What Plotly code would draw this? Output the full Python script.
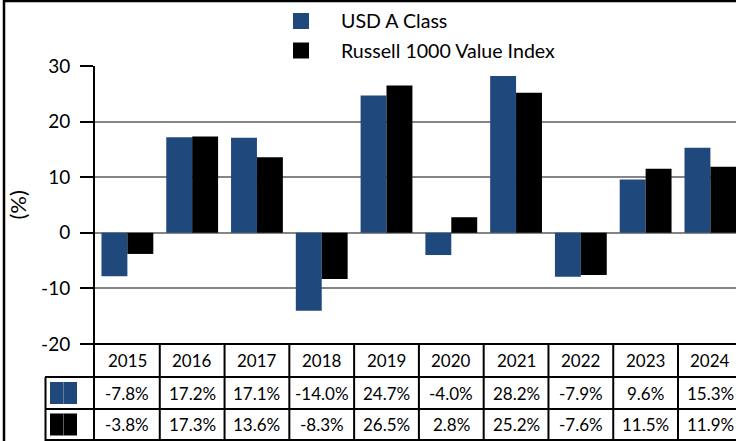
import plotly.graph_objects as go

# ---- data ----
years = ["2015", "2016", "2017", "2018", "2019", "2020", "2021", "2022", "2023", "2024"]
series_names = ["USD A Class", "Russell 1000 Value Index"]
usd_a_class = [-7.8, 17.2, 17.1, -14.0, 24.7, -4.0, 28.2, -7.9, 9.6, 15.3]
russell_1000_value = [-3.8, 17.3, 13.6, -8.3, 26.5, 2.8, 25.2, -7.6, 11.5, 11.9]
y_ticks = [-20, -10, 0, 10, 20, 30]
y_tick_labels = ["-20", "-10", "0", "10", "20", "30"]
series_values = [usd_a_class, russell_1000_value]
colors = ["#1F497D", "#000000"]

FONT = "Lato"
W, H = 736, 441
ML, MR, MT, MB = 95, 0, 66, 97
PW = W - ML - MR
PH = H - MT - MB
CAT_W = 64.78


def px(x):
    return (x - ML) / PW


def py(y):
    return (H - MB - y) / PH


fig = go.Figure()
for name, vals, col in zip(series_names, series_values, colors):
    fig.add_trace(go.Bar(x=years, y=vals, name=name, marker=dict(color=col, line=dict(width=0))))

shapes = []
annotations = []
BL = dict(color="black", width=2)

# outer frame
shapes.append(dict(type="rect", xref="paper", yref="paper", x0=px(4), x1=px(W + 20),
                   y0=py(H + 20), y1=py(1), line=dict(color="black", width=2.5),
                   fillcolor="rgba(0,0,0,0)", layer="above"))

# table horizontal lines
shapes.append(dict(type="line", xref="paper", yref="paper", x0=px(94), x1=px(W + 10),
                   y0=py(344), y1=py(344), line=BL, layer="above"))
for yy in [377, 409, 440]:
    shapes.append(dict(type="line", xref="paper", yref="paper", x0=px(45), x1=px(W + 10),
                       y0=py(yy), y1=py(yy), line=BL, layer="above"))
# table vertical lines
shapes.append(dict(type="line", xref="paper", yref="paper", x0=px(45.5), x1=px(45.5),
                   y0=py(377), y1=py(H + 10), line=BL, layer="above"))
shapes.append(dict(type="line", xref="paper", yref="paper", x0=px(94), x1=px(94),
                   y0=py(344), y1=py(H + 10), line=BL, layer="above"))
for k in range(1, len(years) + 1):
    shapes.append(dict(type="line", xref="x", yref="paper", x0=k - 0.5, x1=k - 0.5,
                       y0=py(344), y1=py(H + 10), line=BL, layer="above"))

# table key swatches
row_mid = [393, 424.5]
for r, col in enumerate(colors):
    yc = row_mid[r]
    shapes.append(dict(type="rect", xref="paper", yref="paper", x0=px(50), x1=px(77),
                       y0=py(yc + 11), y1=py(yc - 11), line=dict(width=0), fillcolor=col))
    shapes.append(dict(type="line", xref="paper", yref="paper", x0=px(63.5), x1=px(63.5),
                       y0=py(yc + 11), y1=py(yc - 11),
                       line=dict(color="rgba(150,160,175,0.6)", width=1)))

# table texts
for i, yr in enumerate(years):
    annotations.append(dict(xref="x", yref="paper", x=i, y=py(360.5), text=yr, showarrow=False,
                            xanchor="center", yanchor="middle",
                            font=dict(family=FONT, size=17, color="black")))
    for r, vals in enumerate(series_values):
        annotations.append(dict(xref="x", yref="paper", x=i, y=py(row_mid[r]),
                                text=f"{vals[i]:.1f}%", showarrow=False,
                                xanchor="center", yanchor="middle",
                                font=dict(family=FONT, size=17, color="black")))

# custom legend
leg_y = [21, 50.5]
for name, col, yc in zip(series_names, colors, leg_y):
    shapes.append(dict(type="rect", xref="paper", yref="paper", x0=px(293), x1=px(309),
                       y0=py(yc + 8), y1=py(yc - 8), line=dict(width=0), fillcolor=col))
    annotations.append(dict(xref="paper", yref="paper", x=px(339), y=py(yc), text=name,
                            showarrow=False, xanchor="left", yanchor="middle",
                            font=dict(family=FONT, size=19.6, color="black")))

# y axis title
annotations.append(dict(xref="paper", yref="paper", x=px(17), y=py(205.5), text="(%)",
                        textangle=-90, showarrow=False, xanchor="center", yanchor="middle",
                        font=dict(family=FONT, size=22, color="black")))

fig.update_layout(
    width=W, height=H,
    margin=dict(l=ML, r=MR, t=MT, b=MB, pad=0),
    paper_bgcolor="white", plot_bgcolor="white",
    barmode="group", bargap=0.2, bargroupgap=0,
    showlegend=False,
    shapes=shapes, annotations=annotations,
    xaxis=dict(type="category", range=[-0.5, -0.5 + PW / CAT_W], showticklabels=False,
               showgrid=False, showline=False, zeroline=False, ticks=""),
    yaxis=dict(range=[-20, 30], tickvals=y_ticks, ticktext=y_tick_labels, ticks="outside",
               ticklen=13, tickwidth=2, ticklabelstandoff=6,
               tickcolor="black", showline=True, linecolor="black", linewidth=2,
               showgrid=True, gridcolor="#858585", gridwidth=1.5, zeroline=False,
               tickfont=dict(family=FONT, size=19, color="black")),
)

fig.write_html("out.html", config={"displayModeBar": False},
               post_script="document.body.style.margin='0';document.body.style.overflow='hidden';")
